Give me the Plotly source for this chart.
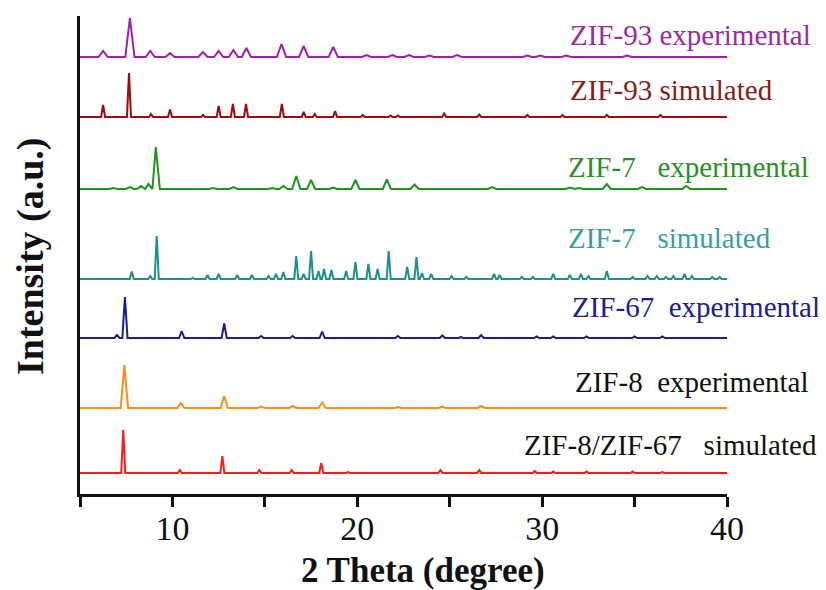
import plotly.graph_objects as go

# ---------------- data (peak positions in 2θ, heights in a.u.) ----------------
zif93_exp_pos = [6.25, 7.7, 8.8, 9.87, 11.65, 12.5, 13.3, 14.0, 15.9, 17.1, 18.7, 20.5, 21.9, 22.8, 23.9, 25.4, 29.2, 29.9, 31.3, 34.6]
zif93_exp_int = [6, 39, 6, 4, 5, 6, 7, 9, 13, 11, 10, 2, 2, 2, 1.5, 2, 1.5, 1.5, 1.5, 1.5]

zif93_sim_pos = [6.25, 7.65, 8.84, 9.87, 11.65, 12.5, 13.27, 13.98, 15.92, 17.1, 17.7, 18.8, 20.3, 21.8, 22.2, 24.7, 26.6, 29.2, 31.1, 33.5, 36.4]
zif93_sim_int = [12, 44, 3, 7.5, 2, 11, 13, 13, 13, 5, 3, 6, 2, 1.5, 1.5, 3.5, 2.5, 2, 2, 2, 2]

zif7_exp_pos = [6.8, 7.7, 8.3, 8.7, 9.1, 12.2, 13.3, 15.4, 16.0, 16.7, 17.5, 18.7, 19.9, 21.6, 23.1, 27.3, 31.5, 32.0, 33.5, 35.4, 37.8]
zif7_exp_int = [1, 2, 3, 5, 42, 1, 2, 1, 3, 13, 9, 1.5, 9, 9.5, 4.5, 2, 1.5, 1, 5, 2, 3]

zif7_sim_pos = [7.8, 8.8, 9.15, 11.1, 11.9, 12.5, 13.5, 14.3, 15.2, 15.6, 16.0, 16.7, 17.1, 17.5, 17.9, 18.2, 18.6,
                19.4, 19.9, 20.6, 21.1, 21.7, 22.7, 23.2, 23.5, 24.0, 25.1, 25.9, 27.4, 27.7, 28.9, 29.5, 30.6,
                31.5, 32.1, 32.5, 33.5, 34.9, 35.7, 36.2, 36.7, 37.1, 37.7, 38.1, 39.2, 39.6]
zif7_sim_int = [7.5, 3, 43, 1, 4, 5, 4, 4, 3, 5, 7, 23, 5, 28, 8, 10, 9,
                8, 17, 15, 10, 28, 12, 22, 6, 5, 3, 2, 5, 4, 2, 2, 5,
                4, 5, 3, 8, 2, 3, 3, 2, 3, 5, 3, 2, 2]

zif67_exp_pos = [7.0, 7.43, 10.5, 12.8, 14.8, 16.5, 18.1, 22.2, 24.6, 25.6, 26.7, 29.7, 30.6, 32.4, 35.0, 36.5]
zif67_exp_int = [3, 41, 7, 14.5, 2, 2, 6.5, 2, 2.5, 1, 3, 1.5, 1.5, 1.5, 1.5, 1.5]

zif8_exp_pos = [7.4, 10.45, 12.8, 14.8, 16.5, 18.1, 22.2, 24.6, 26.7]
zif8_exp_int = [43, 5, 12, 1.5, 2, 5.5, 1, 1.5, 2]

zif8_sim_pos = [7.34, 10.4, 12.7, 14.7, 16.45, 18.05, 19.5, 24.5, 26.6, 29.6, 30.6, 32.4, 34.9, 36.5]
zif8_sim_int = [43, 3, 17, 3, 3, 10, 1, 3, 3, 2, 1.5, 1.5, 1.5, 1]

labels = ["ZIF-93 experimental", "ZIF-93 simulated", "ZIF-7\u00a0\u00a0\u00a0experimental",
          "ZIF-7\u00a0\u00a0\u00a0simulated", "ZIF-67\u00a0\u00a0experimental",
          "ZIF-8\u00a0\u00a0experimental", "ZIF-8/ZIF-67\u00a0\u00a0\u00a0simulated"]
x_tick_vals = [5, 10, 15, 20, 25, 30, 35, 40]
x_tick_text = ["", "10", "", "20", "", "30", "", "40"]

# ---------------- styling / layout ----------------
series = [
    (zif93_exp_pos, zif93_exp_int, 437, 0.25, "#A020A8", "#9B2AA5"),
    (zif93_sim_pos, zif93_sim_int, 377, 0.11, "#9B0D0D", "#8B1A1A"),
    (zif7_exp_pos, zif7_exp_int, 305, 0.22, "#1E961E", "#2A8F2A"),
    (zif7_sim_pos, zif7_sim_int, 215, 0.11, "#1A9090", "#3A9E9E"),
    (zif67_exp_pos, zif67_exp_int, 156, 0.14, "#1C1C96", "#20208A"),
    (zif8_exp_pos, zif8_exp_int, 86, 0.2, "#FF8C1A", "#111111"),
    (zif8_sim_pos, zif8_sim_int, 21, 0.11, "#FF1A1A", "#111111"),
]
label_px = [(568, 35), (568, 90), (566, 167), (566, 238), (570, 307), (573, 382), (522, 445)]

X0, X1 = 5, 40
OFF = 8  # page body margin of the html page
PLOT_L, PLOT_R, PLOT_T, PLOT_B = 80, 727, 16, 494   # window pixels
W, H = 826, 590


def px_to_x(px):
    return X0 + (px - PLOT_L) * (X1 - X0) / (PLOT_R - PLOT_L)


def px_to_y(py):
    return PLOT_B - py


fig = go.Figure()
for (pos, inten, base, w, col, _tc) in series:
    pts = [(X0, 0.0)]
    for p, h in zip(pos, inten):
        pts += [(p - w, 0.0), (p, h), (p + w, 0.0)]
    pts.append((X1, 0.0))
    pts.sort(key=lambda t: t[0])
    xs = [t[0] for t in pts]
    ys = [base + t[1] for t in pts]
    fig.add_trace(go.Scatter(x=xs, y=ys, mode="lines", line=dict(color=col, width=2),
                             hoverinfo="skip", showlegend=False))

font_fam = "Liberation Serif, Times New Roman, Times, DejaVu Serif, serif"
annotations = []
for (lab, (lx, ly), s) in zip(labels, label_px, series):
    annotations.append(dict(x=px_to_x(lx), y=px_to_y(ly), xref="x", yref="y", text=lab,
                            showarrow=False, xanchor="left", yanchor="middle",
                            font=dict(family=font_fam, size=29, color=s[5])))


def paper_xy(px, py):
    return (px - PLOT_L) / (PLOT_R - PLOT_L), (PLOT_B - py) / (PLOT_B - PLOT_T)


tx, ty = paper_xy(423, 570)
annotations.append(dict(x=tx, y=ty, xref="paper", yref="paper",
                        text="<b>2 Theta (degree)</b>", showarrow=False,
                        xanchor="center", yanchor="middle",
                        font=dict(family=font_fam, size=35, color="#111111")))
yx, yy = paper_xy(30, 256)
annotations.append(dict(x=yx, y=yy, xref="paper", yref="paper",
                        text="<b>Intensity (a.u.)</b>", showarrow=False, textangle=-90,
                        xanchor="center", yanchor="middle",
                        font=dict(family=font_fam, size=38, color="#111111")))

fig.update_layout(
    width=W, height=H,
    margin=dict(l=PLOT_L - OFF, r=W - PLOT_R + OFF, t=PLOT_T - OFF, b=H - PLOT_B + OFF, pad=0,
                autoexpand=False),
    paper_bgcolor="white", plot_bgcolor="white",
    annotations=annotations,
    xaxis=dict(range=[X0, X1], tickvals=x_tick_vals, ticktext=x_tick_text,
               ticks="outside", ticklen=10, tickwidth=2.5, tickcolor="#111111",
               ticklabelstandoff=-8,
               showline=True, linecolor="#111111", linewidth=3, showgrid=False,
               zeroline=False, tickfont=dict(family=font_fam, size=34, color="#111111")),
    yaxis=dict(range=[0, PLOT_B - PLOT_T], showticklabels=False, ticks="",
               showline=True, linecolor="#111111", linewidth=3, showgrid=False,
               zeroline=False),
)

fig.write_html("out.html")
